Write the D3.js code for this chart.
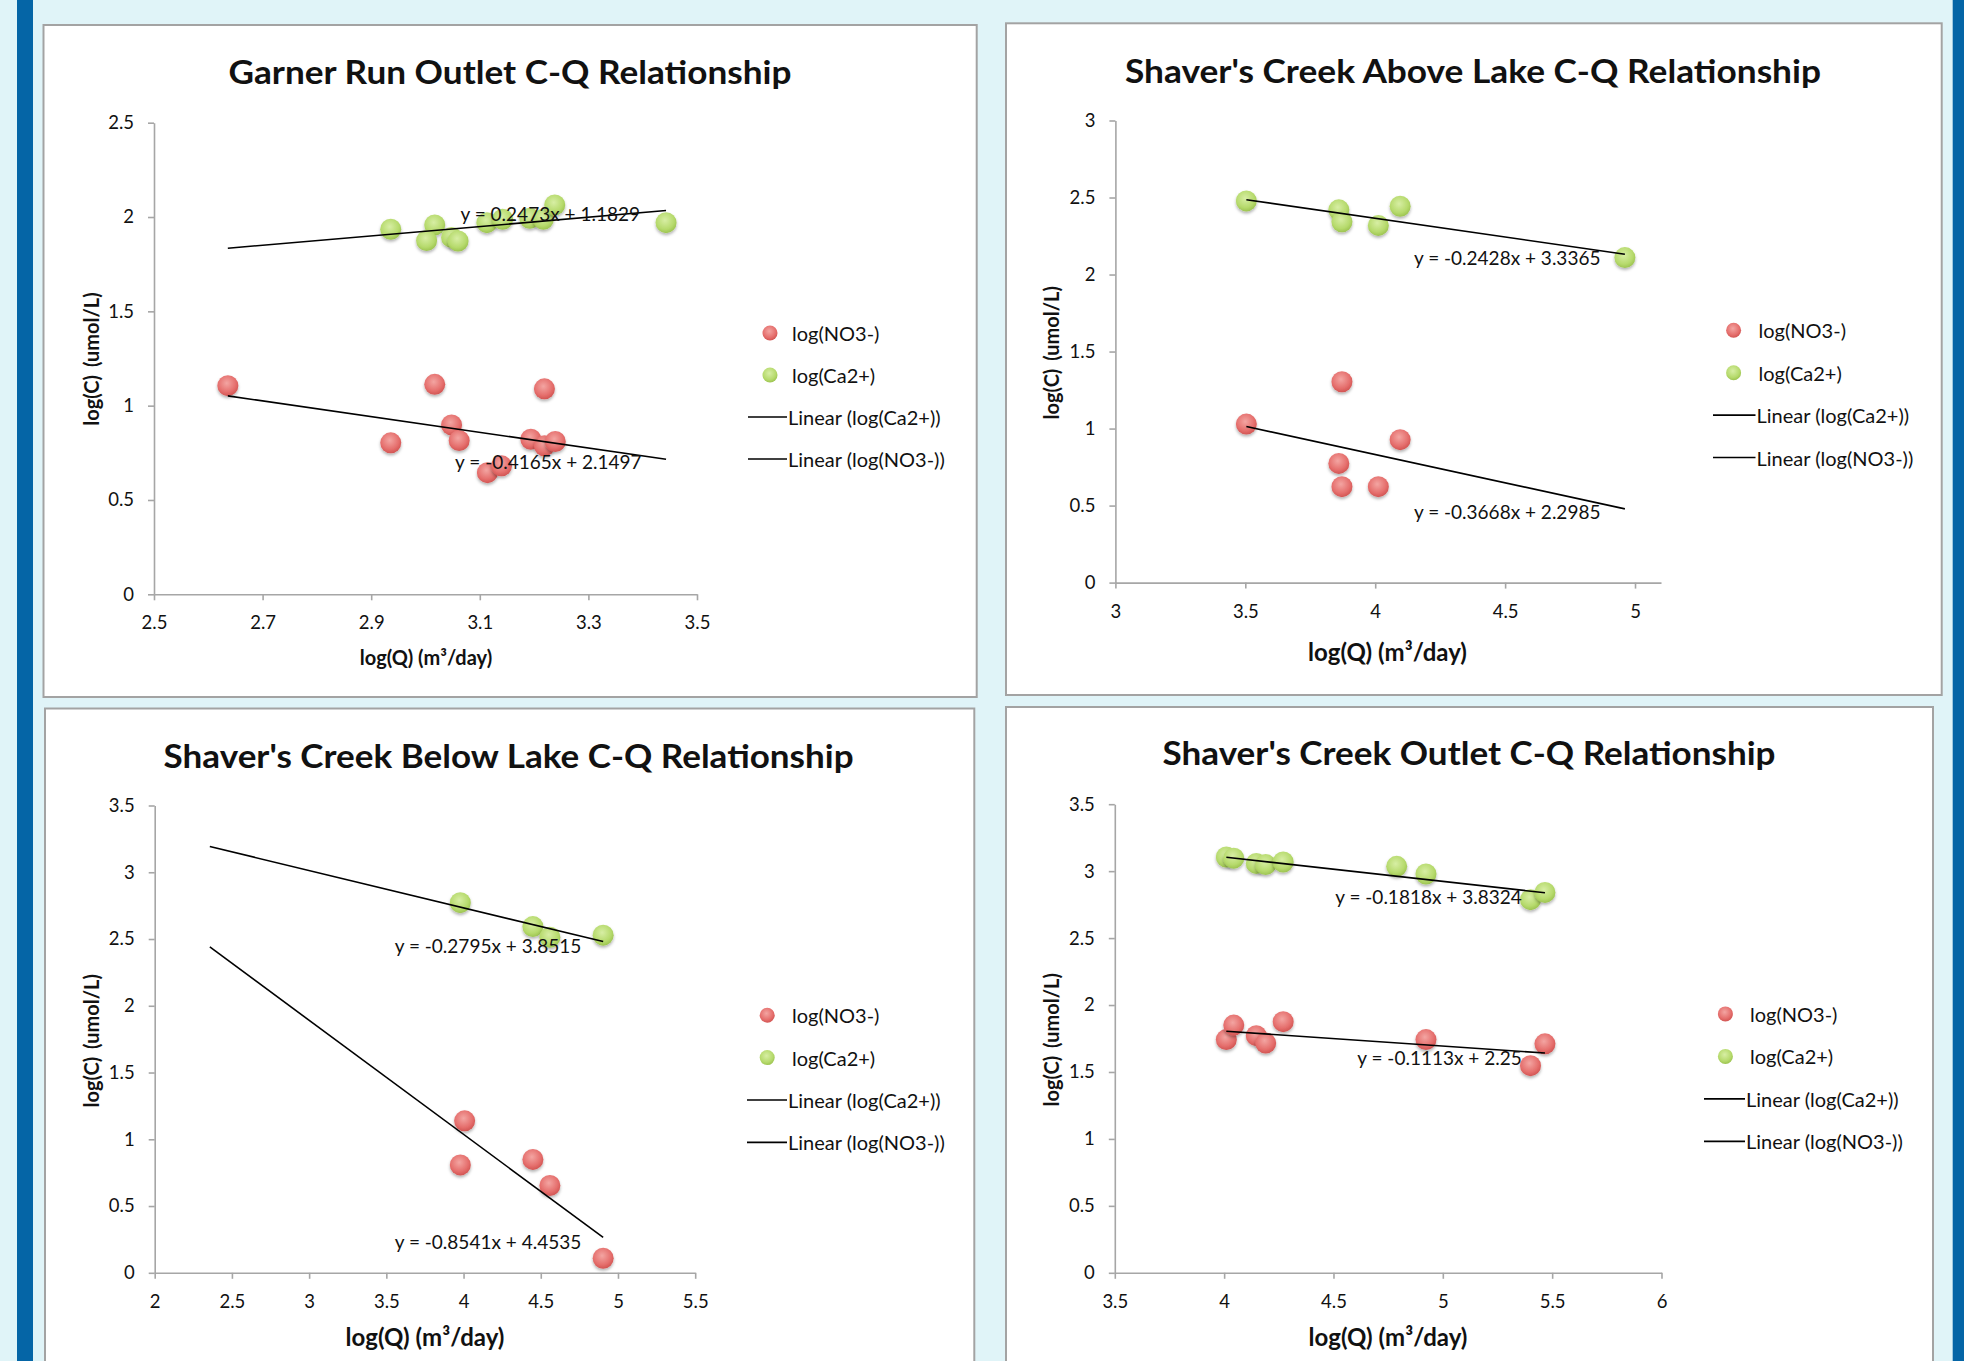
<!DOCTYPE html>
<html>
<head>
<meta charset="utf-8">
<script src="https://cdn.jsdelivr.net/npm/d3@7"></script>
<style>
  html, body { margin: 0; padding: 0; background: #e0f4f8; }
  svg { display: block; }
  text { font-family: Lato, 'Open Sans', sans-serif; fill: #111; }
</style>
</head>
<body>
<svg id="chart" width="1964" height="1361"></svg>
<script>
// ---- data ----
const seriesNames = ['log(NO3-)', 'log(Ca2+)'];
const legendLines = ['Linear (log(Ca2+))', 'Linear (log(NO3-))'];

// Garner Run Outlet
const garnerCaQ = [2.936, 3.017, 3.002, 3.048, 3.060, 3.113, 3.142, 3.192, 3.217, 3.238, 3.443];
const garnerCa = [1.935, 1.958, 1.875, 1.892, 1.873, 1.970, 1.988, 1.993, 1.988, 2.064, 1.970];
const garnerNo3Q = [2.636, 2.936, 3.017, 3.048, 3.062, 3.114, 3.140, 3.194, 3.219, 3.219, 3.239];
const garnerNo3 = [1.106, 0.803, 1.113, 0.898, 0.815, 0.645, 0.681, 0.822, 0.787, 1.089, 0.810];
const garnerCaFit = [0.2473, 1.1829];
const garnerNo3Fit = [-0.4165, 2.1497];
const garnerFitRange = [2.636, 3.443];
const garnerXTicks = [2.5, 2.7, 2.9, 3.1, 3.3, 3.5];
const garnerYTicks = [0, 0.5, 1, 1.5, 2, 2.5];

// Shaver's Creek Above Lake
const aboveCaQ = [3.504, 3.860, 3.872, 4.012, 4.096, 4.961];
const aboveCa = [2.478, 2.420, 2.342, 2.319, 2.443, 2.110];
const aboveNo3Q = [3.504, 3.872, 3.860, 3.872, 4.012, 4.096];
const aboveNo3 = [1.029, 1.304, 0.774, 0.623, 0.623, 0.928];
const aboveCaFit = [-0.2428, 3.3365];
const aboveNo3Fit = [-0.3668, 2.2985];
const aboveFitRange = [3.504, 4.961];
const aboveXTicks = [3, 3.5, 4, 4.5, 5];
const aboveYTicks = [0, 0.5, 1, 1.5, 2, 2.5, 3];

// Shaver's Creek Below Lake
const belowCaQ = [3.979, 4.449, 4.559, 4.904];
const belowCa = [2.772, 2.593, 2.513, 2.529];
const belowNo3Q = [4.007, 3.979, 4.449, 4.559, 4.904];
const belowNo3 = [1.138, 0.808, 0.849, 0.654, 0.109];
const belowCaFit = [-0.2795, 3.8515];
const belowNo3Fit = [-0.8541, 4.4535];
const belowFitRange = [2.357, 4.904];
const belowXTicks = [2, 2.5, 3, 3.5, 4, 4.5, 5, 5.5];
const belowYTicks = [0, 0.5, 1, 1.5, 2, 2.5, 3, 3.5];

// Shaver's Creek Outlet
const outletCaQ = [4.010, 4.044, 4.147, 4.190, 4.270, 4.789, 4.923, 5.401, 5.467];
const outletCa = [3.106, 3.097, 3.058, 3.049, 3.068, 3.036, 2.979, 2.787, 2.841];
const outletNo3Q = [4.010, 4.044, 4.147, 4.190, 4.270, 4.923, 5.401, 5.467];
const outletNo3 = [1.742, 1.850, 1.771, 1.716, 1.876, 1.742, 1.547, 1.710];
const outletCaFit = [-0.1818, 3.8324];
const outletNo3Fit = [-0.1113, 2.25];
const outletFitRange = [4.010, 5.467];
const outletXTicks = [3.5, 4, 4.5, 5, 5.5, 6];
const outletYTicks = [0, 0.5, 1, 1.5, 2, 2.5, 3, 3.5];

// ---- layout of each chart box (pixels) ----
const panels = [
  {
    title: 'Garner Run Outlet C-Q Relationship', titleX: 510, titleY: 84, titleW: 563,
    box: [43.5, 25, 976.7, 697], plot: [154, 697, 122.7, 594.3],
    xDomain: [2.5, 3.5], yDomain: [0, 2.5], xTicks: garnerXTicks, yTicks: garnerYTicks,
    caQ: garnerCaQ, ca: garnerCa, no3Q: garnerNo3Q, no3: garnerNo3,
    caFit: garnerCaFit, no3Fit: garnerNo3Fit, fitRange: garnerFitRange,
    caLabel: [3.395, 2.02], no3Label: [3.398, 0.703],
    xTitle: [426, 657, 20], yTitle: [91, 359],
    legend: { dotX: 770, y0: 333, step: 42, line: [748, 787], textX: 792 }
  },
  {
    title: "Shaver's Creek Above Lake C-Q Relationship", titleX: 1473, titleY: 82.6, titleW: 696,
    box: [1006, 23.3, 1941.7, 695], plot: [1115.4, 1661, 120.5, 582.6],
    xDomain: [3, 5.1], yDomain: [0, 3], xTicks: aboveXTicks, yTicks: aboveYTicks,
    caQ: aboveCaQ, ca: aboveCa, no3Q: aboveNo3Q, no3: aboveNo3,
    caFit: aboveCaFit, no3Fit: aboveNo3Fit, fitRange: aboveFitRange,
    caLabel: [4.867, 2.11], no3Label: [4.867, 0.464],
    xTitle: [1387.5, 651.7, 24], yTitle: [1051, 352.7],
    legend: { dotX: 1733.6, y0: 330.3, step: 42.4, line: [1713, 1755.5], textX: 1758.6 }
  },
  {
    title: "Shaver's Creek Below Lake C-Q Relationship", titleX: 508.6, titleY: 768.3, titleW: 690,
    box: [45, 708.5, 974.3, 1395], plot: [154.7, 695.2, 805.5, 1272.8],
    xDomain: [2, 5.5], yDomain: [0, 3.5], xTicks: belowXTicks, yTicks: belowYTicks,
    caQ: belowCaQ, ca: belowCa, no3Q: belowNo3Q, no3: belowNo3,
    caFit: belowCaFit, no3Fit: belowNo3Fit, fitRange: belowFitRange,
    caLabel: [4.762, 2.449], no3Label: [4.762, 0.237],
    xTitle: [425, 1336, 24], yTitle: [90.8, 1040.8],
    legend: { dotX: 767.2, y0: 1015.2, step: 42.4, line: [747, 787], textX: 792 }
  },
  {
    title: "Shaver's Creek Outlet C-Q Relationship", titleX: 1469, titleY: 765.3, titleW: 613,
    box: [1006, 707, 1933, 1395], plot: [1114.8, 1661.5, 804.2, 1272.8],
    xDomain: [3.5, 6], yDomain: [0, 3.5], xTicks: outletXTicks, yTicks: outletYTicks,
    caQ: outletCaQ, ca: outletCa, no3Q: outletNo3Q, no3: outletNo3,
    caFit: outletCaFit, no3Fit: outletNo3Fit, fitRange: outletFitRange,
    caLabel: [5.361, 2.813], no3Label: [5.361, 1.611],
    xTitle: [1388, 1336, 24], yTitle: [1051, 1039.8],
    legend: { dotX: 1725.4, y0: 1013.9, step: 42.5, line: [1704, 1745], textX: 1750 }
  }
];

const svg = d3.select('#chart');

// page background with the two blue side stripes
svg.append('rect').attr('width', 1964).attr('height', 1361).attr('fill', '#e0f4f8');
svg.append('rect').attr('x', 17).attr('width', 16).attr('height', 1361).attr('fill', '#0565a6');
svg.append('rect').attr('x', 1952.7).attr('width', 12).attr('height', 1361).attr('fill', '#0565a6');

// marker gradients + soft shadow, roughly like Excel's default bubble markers
const defs = svg.append('defs');
const grad = (id, c0, c1, c2) => {
  const g = defs.append('radialGradient').attr('id', id)
    .attr('cx', '45%').attr('cy', '38%').attr('r', '62%');
  g.append('stop').attr('offset', '0%').attr('stop-color', c0);
  g.append('stop').attr('offset', '70%').attr('stop-color', c1);
  g.append('stop').attr('offset', '100%').attr('stop-color', c2);
};
grad('redDot', '#f3a5a2', '#e56e6c', '#d25553');
grad('greenDot', '#d7eea4', '#b6da6c', '#9dc451');
defs.append('filter').attr('id', 'shadow')
  .attr('x', '-50%').attr('y', '-50%').attr('width', '200%').attr('height', '200%')
  .append('feDropShadow')
  .attr('dx', 0).attr('dy', 2).attr('stdDeviation', 1.6)
  .attr('flood-color', '#000').attr('flood-opacity', 0.3);

const fmt = d3.format('');

panels.forEach((p) => {
  const g = svg.append('g');
  const [bx0, by0, bx1, by1] = p.box;
  g.append('rect')
    .attr('x', bx0).attr('y', by0)
    .attr('width', bx1 - bx0).attr('height', by1 - by0)
    .attr('fill', '#fff').attr('stroke', '#a3a3a3').attr('stroke-width', 2);

  const [left, right, top, bottom] = p.plot;
  const x = d3.scaleLinear().domain(p.xDomain).range([left, right]);
  const y = d3.scaleLinear().domain(p.yDomain).range([bottom, top]);

  g.append('text')
    .attr('x', p.titleX).attr('y', p.titleY)
    .attr('text-anchor', 'middle')
    .attr('font-size', 33).attr('font-weight', 700)
    .attr('textLength', p.titleW).attr('lengthAdjust', 'spacingAndGlyphs')
    .text(p.title);

  // axes
  const xAxis = g.append('g')
    .attr('transform', `translate(0,${bottom})`)
    .call(d3.axisBottom(x).tickValues(p.xTicks).tickSize(6).tickSizeOuter(0).tickPadding(16).tickFormat(fmt));
  const yAxis = g.append('g')
    .attr('transform', `translate(${left},0)`)
    .call(d3.axisLeft(y).tickValues(p.yTicks).tickSize(6).tickSizeOuter(0).tickPadding(14).tickFormat(fmt));
  [xAxis, yAxis].forEach((a) => {
    a.select('.domain').attr('stroke', '#a6a6a6').attr('stroke-width', 1.6);
    a.selectAll('.tick line').attr('stroke', '#a6a6a6').attr('stroke-width', 1.6);
    a.selectAll('.tick text').attr('font-size', 18.5).attr('fill', '#1a1a1a')
      .attr('font-family', 'Lato, sans-serif');
  });

  // axis titles
  g.append('text')
    .attr('x', p.xTitle[0]).attr('y', p.xTitle[1])
    .attr('text-anchor', 'middle').attr('dominant-baseline', 'central')
    .attr('font-size', p.xTitle[2]).attr('font-weight', 700)
    .text('log(Q) (m³/day)');
  g.append('text')
    .attr('transform', `translate(${p.yTitle[0]},${p.yTitle[1]}) rotate(-90)`)
    .attr('text-anchor', 'middle').attr('dominant-baseline', 'central')
    .attr('font-size', 20).attr('font-weight', 700)
    .attr('word-spacing', 3)
    .text('log(C) (umol/L)');

  // markers: NO3 first, then Ca (Excel series order)
  const pts = (qs, vs) => qs.map((q, i) => [q, vs[i]]);
  g.append('g').selectAll('circle').data(pts(p.no3Q, p.no3)).join('circle')
    .attr('cx', (d) => x(d[0])).attr('cy', (d) => y(d[1])).attr('r', 10.5)
    .attr('fill', 'url(#redDot)').attr('filter', 'url(#shadow)');
  g.append('g').selectAll('circle').data(pts(p.caQ, p.ca)).join('circle')
    .attr('cx', (d) => x(d[0])).attr('cy', (d) => y(d[1])).attr('r', 10.5)
    .attr('fill', 'url(#greenDot)').attr('filter', 'url(#shadow)');

  // linear trendlines from the fitted equations
  const line = d3.line().x((d) => x(d[0])).y((d) => y(d[1]));
  [p.caFit, p.no3Fit].forEach(([m, b]) => {
    g.append('path')
      .datum(p.fitRange.map((q) => [q, m * q + b]))
      .attr('d', line).attr('fill', 'none')
      .attr('stroke', '#000').attr('stroke-width', 1.6);
  });

  // equation labels
  [[p.caFit, p.caLabel], [p.no3Fit, p.no3Label]].forEach(([[m, b], pos]) => {
    g.append('text')
      .attr('x', x(pos[0])).attr('y', y(pos[1]))
      .attr('text-anchor', 'end').attr('dominant-baseline', 'central')
      .attr('font-size', 19)
      .text(`y = ${m}x + ${b}`);
  });

  // legend
  const L = p.legend;
  seriesNames.forEach((name, i) => {
    const cy = L.y0 + i * L.step;
    g.append('circle').attr('cx', L.dotX).attr('cy', cy).attr('r', 7.5)
      .attr('fill', i === 0 ? 'url(#redDot)' : 'url(#greenDot)');
    g.append('text').attr('x', L.textX).attr('y', cy)
      .attr('dominant-baseline', 'central').attr('font-size', 20).text(name);
  });
  legendLines.forEach((name, i) => {
    const cy = L.y0 + (i + 2) * L.step;
    g.append('line').attr('x1', L.line[0]).attr('x2', L.line[1])
      .attr('y1', cy).attr('y2', cy).attr('stroke', '#000').attr('stroke-width', 1.6);
    g.append('text').attr('x', L.line[1] + 1).attr('y', cy)
      .attr('dominant-baseline', 'central').attr('font-size', 20).text(name);
  });
});
</script>
</body>
</html>
